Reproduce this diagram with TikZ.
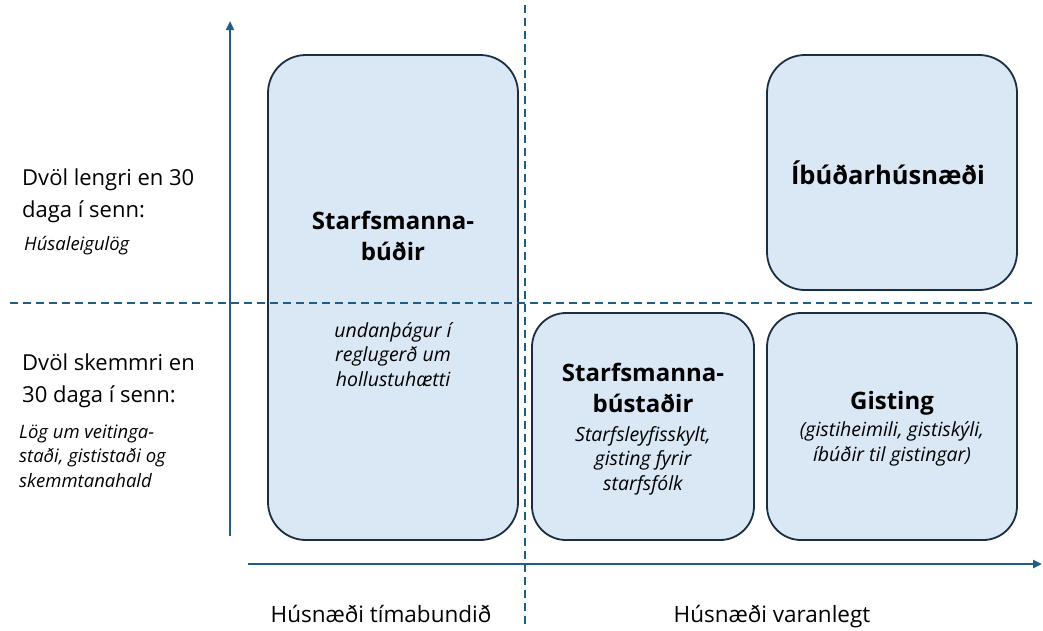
\documentclass[tikz,border=0pt]{standalone}
\usepackage{fontspec}
\setmainfont{Open Sans}
\usetikzlibrary{arrows.meta}
\definecolor{boxfill}{HTML}{DAE8F5}
\definecolor{boxline}{HTML}{1B2D40}
\definecolor{axis}{HTML}{1F5F86}
\tikzset{
  box/.style={draw=boxline, line width=1.8pt, fill=boxfill, rounded corners=38pt, inner sep=0pt},
  axisline/.style={draw=axis, line width=2.2pt, -{Triangle[length=9pt,width=8pt]}},
  divider/.style={draw=axis, line width=1.8pt, dash pattern=on 8pt off 5pt},
  big/.style={font=\fontsize{22}{31.5}\selectfont, align=left, inner sep=0pt},
  law/.style={font=\fontsize{18.5}{24.5}\selectfont\itshape, align=left, inner sep=0pt},
  title/.style={font=\fontsize{24}{31}\selectfont\bfseries, align=center, inner sep=0pt},
  note/.style={font=\fontsize{19.5}{24.5}\selectfont\itshape, align=center, inner sep=0pt},
  axlabel/.style={font=\fontsize{22.5}{26}\selectfont, inner sep=0pt}
}
\begin{document}
\begin{tikzpicture}[x=1pt,y=-1pt]
\useasboundingbox (0,0) rectangle (1043,630);
% boxes
\node[box, minimum width=250pt, minimum height=485pt] (b1) at (393,297.5) {};
\node[box, minimum width=250pt, minimum height=235pt] (b2) at (892,172.5) {};
\node[box, minimum width=222pt, minimum height=227pt, rounded corners=34pt] (b3) at (643,426.5) {};
\node[box, minimum width=250pt, minimum height=227pt, rounded corners=34pt] (b4) at (892,426.5) {};
% dividers
\coordinate (dvt) at (525,5);
\coordinate (dvb) at (525,626);
\coordinate (dhl) at (10,303);
\coordinate (dhr) at (1036,303);
\draw[divider] (dvt) -- (dvb);
\draw[divider] (dhl) -- (dhr);
% axes
\coordinate (yb) at (230,536);
\coordinate (yt) at (230,21);
\coordinate (xl) at (248,564);
\coordinate (xr) at (1042,564);
\draw[axisline] (yb) -- (yt);
\draw[axisline] (xl) -- (xr);
% left texts
\node[big, anchor=base west] (t1) at (22,217) {Dvöl lengri en 30\\daga í senn:};
\node[law, anchor=base west] (t1l) at (24,250) {Húsaleigulög};
\node[big, anchor=base west] (t2) at (22,402) {Dvöl skemmri en\\30 daga í senn:};
\node[law, anchor=base west] (t2l) at (19,487) {Lög um veitinga-\\staði, gististaði og\\skemmtanahald};
% box texts
\node[title, anchor=base] (b1t) at (393,260) {Starfsmanna-\\búðir};
\node[note, anchor=base] (b1n) at (393,386) {undanþágur í\\reglugerð um\\hollustuhætti};
\node[title, font=\fontsize{25.5}{31}\selectfont\bfseries, anchor=base] (b2t) at (888,184) {Íbúðarhúsnæði};
\node[title, anchor=base] (b3t) at (643,412) {Starfsmanna-\\bústaðir};
\node[note, anchor=base] (b3n) at (643,490) {Starfsleyfisskylt,\\gisting fyrir\\starfsfólk};
\node[title, anchor=base] (b4t) at (892,409) {Gisting};
\node[note, anchor=base] (b4n) at (892,461) {(gistiheimili, gistiskýli,\\íbúðir til gistingar)};
% axis labels
\node[axlabel, anchor=base] (xl1) at (381,622) {Húsnæði tímabundið};
\node[axlabel, anchor=base] (xl2) at (772,622) {Húsnæði varanlegt};
\end{tikzpicture}
\end{document}
